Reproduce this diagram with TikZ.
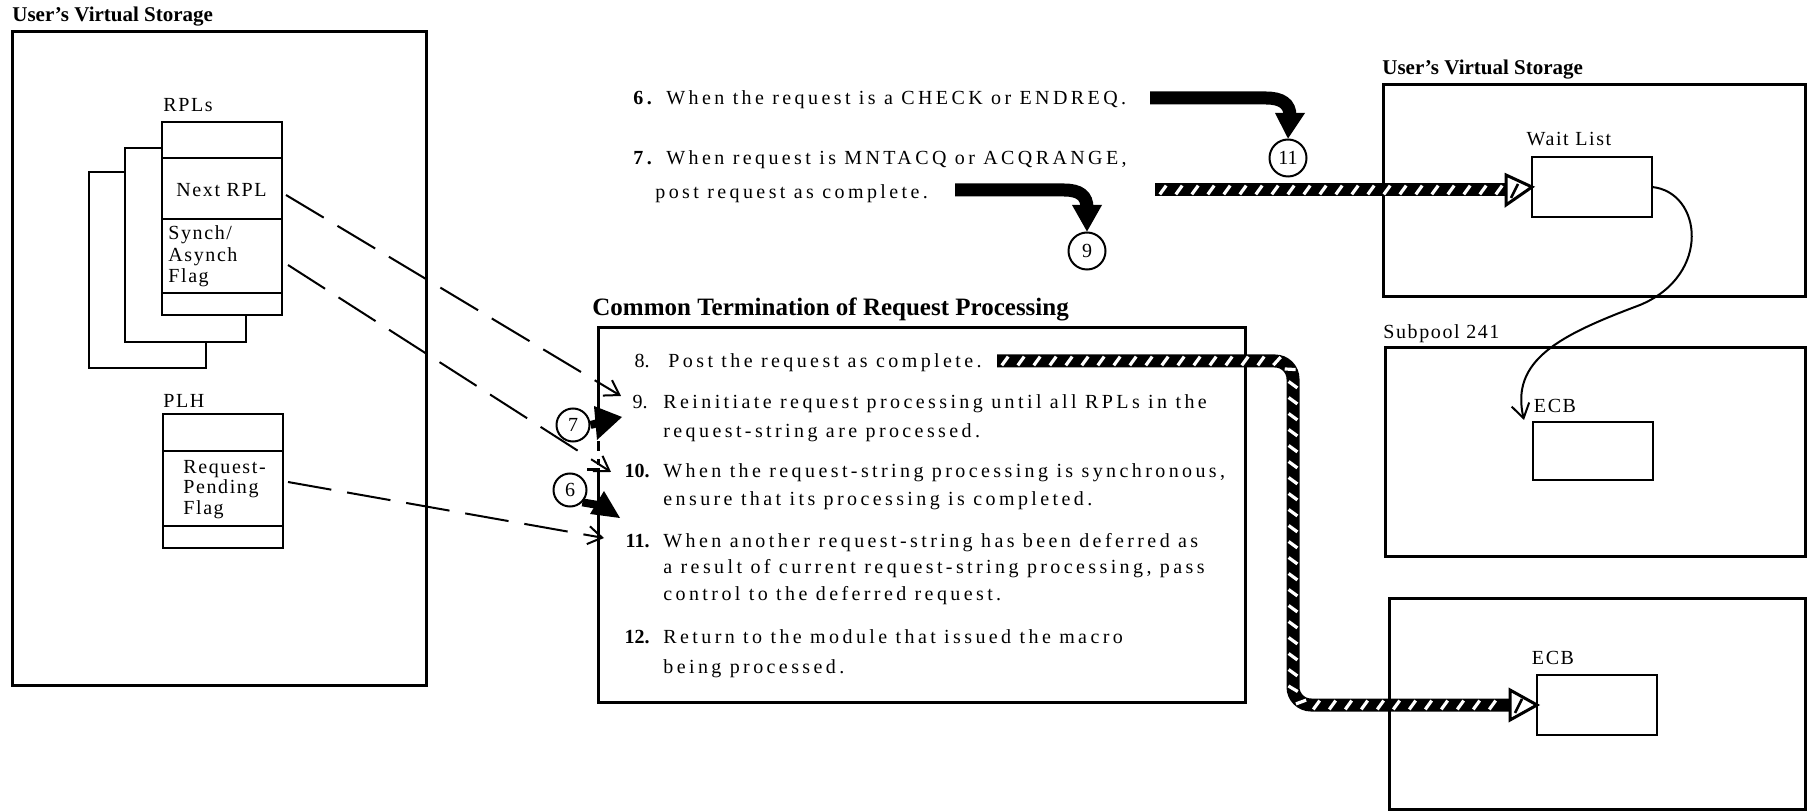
\documentclass[tikz,border=0pt]{standalone}
\usepackage{fontspec}
\setmainfont{Liberation Serif}
\newfontfamily\bodyfont[LetterSpace=17]{Liberation Serif}
\newfontfamily\labfont[LetterSpace=8]{Liberation Serif}
\usetikzlibrary{arrows.meta,decorations.markings}
\begin{document}
\begin{tikzpicture}[x=0.5pt,y=-0.5pt,
  bigbox/.style={draw, line width=1.5pt, anchor=north west, inner sep=0pt, outer sep=0pt},
  smallbox/.style={draw, line width=1pt, anchor=north west, inner sep=0pt, outer sep=0pt, fill=white},
  txt/.style={anchor=base west, inner sep=0pt, font=\bodyfont\fontsize{10}{12}\selectfont},
  num/.style={anchor=base east, inner sep=0pt, font=\fontsize{10}{12}\selectfont},
  lab/.style={anchor=base west, inner sep=0pt, font=\labfont\fontsize{10}{12}\selectfont},
  ttl/.style={anchor=base west, inner sep=0pt, font=\bfseries\fontsize{10.5}{12}\selectfont},
  circ/.style={draw, circle, line width=1pt, minimum size=16.5pt, inner sep=0pt, font=\fontsize{10}{12}\selectfont},
  dasharrow/.style={line width=1pt, dash pattern=on 22pt off 8pt, -{Straight Barb[length=7pt,width=9pt]}},
  hatch/.style={line width=6.5pt, postaction={decorate, decoration={markings,
     mark=between positions 4pt and -3pt step 8pt with {\draw[white, line width=1.6pt] (-1.6pt,-2.2pt) -- (1.6pt,2.2pt);}}}},
  hhead/.style={fill=white, draw=black, line width=1.5pt, line join=miter},
  blackband/.style={line width=6.5pt},
  thin/.style={line width=1pt}
]
\useasboundingbox (0,0) rectangle (1811,812);

% ---------------- left: user's virtual storage ----------------
\node[ttl] (lttl) at (12,22) {User's Virtual Storage};
\node[bigbox, minimum width=207pt, minimum height=326.5pt] (lvs) at (12,32) {};

\node[lab] (rplsl) at (163,112) {RPLs};
\node[smallbox, minimum width=58.5pt, minimum height=98pt] (rplc) at (89,172) {};
\node[smallbox, minimum width=60.5pt, minimum height=97pt] (rplb) at (125,148) {};
\node[smallbox, minimum width=60pt, minimum height=96.5pt] (rpla) at (162,122) {};
\draw[thin] (rpla.north west) ++(0,36) -- ++(120,0);
\draw[thin] (rpla.north west) ++(0,97) -- ++(120,0);
\draw[thin] (rpla.north west) ++(0,171) -- ++(120,0);
\node[lab] (nextrpl) at (176,197) {Next RPL};
\node[lab] (syn1) at (168,240) {Synch/};
\node[lab] (syn2) at (168,262) {Asynch};
\node[lab] (syn3) at (168,283) {Flag};

\node[lab] (plhl) at (163,408) {PLH};
\node[smallbox, minimum width=60pt, minimum height=67pt] (plh) at (163,414) {};
\draw[thin] (plh.north west) ++(0,37) -- ++(120,0);
\draw[thin] (plh.north west) ++(0,112) -- ++(120,0);
\node[lab] (rp1) at (183,474) {Request-};
\node[lab] (rp2) at (183,494) {Pending};
\node[lab] (rp3) at (183,515) {Flag};

\coordinate (sA) at (286,195);
\coordinate (sB) at (288,265);
\coordinate (sC) at (288,482);

% ---------------- top texts ----------------
\node[txt] (t6) at (633,105) {\textbf{6.} When the request is a CHECK or ENDREQ.};
\node[txt] (t7) at (633,165) {\textbf{7.} When request is MNTACQ or ACQRANGE,};
\node[txt] (t7b) at (655,199) {post request as complete.};

\node[circ, minimum size=18.5pt] (c11) at (1288,158) {11};
\node[circ, minimum size=18.5pt] (c9) at (1087,251) {9};

\coordinate (b1s) at (1150,98);
\draw[blackband] (b1s) -- (1266,98) .. controls (1282,98) and (1290,104) .. (1290,116);
\fill (1275,113) -- (1305,113) -- (c11.north) -- cycle;
\coordinate (b2s) at (955,190);
\draw[blackband] (b2s) -- (1064,190) .. controls (1080,190) and (1087,196) .. (1087,208);
\fill (1072,205) -- (1102,205) -- (c9.north) -- cycle;

% ---------------- central box ----------------
\node[ttl, font=\bfseries\fontsize{12.5}{14}\selectfont] (cttl) at (592,316) {Common Termination of Request Processing};
\node[anchor=north west, inner sep=0pt, outer sep=0pt, minimum width=323.5pt, minimum height=187pt] (ct) at (598,328) {};
\draw[line width=1.5pt] (598,405) -- (ct.north west) -- (ct.north east) -- (ct.south east) -- (ct.south west) -- (598,470);
\draw[line width=1.5pt, dash pattern=on 5pt off 4pt] (598,405) -- (598,465);
\draw[line width=1.5pt] (587,470) -- (600,470);

\node[num] (n8) at (650,368) {8.};
\node[txt] (l8) at (668,368) {Post the request as complete.};
\node[num] (n9) at (648,409) {9.};
\node[txt] (l9) at (663,409) {Reinitiate request processing until all RPLs in the};
\node[txt] (l9b) at (663,438) {request-string are processed.};
\node[num] (n10) at (650,478) {\textbf{10.}};
\node[txt] (l10) at (663,478) {When the request-string processing is synchronous,};
\node[txt] (l10b) at (663,506) {ensure that its processing is completed.};
\node[num] (n11) at (650,548) {\textbf{11.}};
\node[txt] (l11) at (663,548) {When another request-string has been deferred as};
\node[txt] (l11b) at (663,574) {a result of current request-string processing, pass};
\node[txt] (l11c) at (663,601) {control to the deferred request.};
\node[num] (n12) at (650,644) {\textbf{12.}};
\node[txt] (l12) at (663,644) {Return to the module that issued the macro};
\node[txt] (l12b) at (663,673) {being processed.};

% dashed connectors
\coordinate (eA) at (621,396);
\coordinate (eB) at (611,472);
\coordinate (eC) at (604,538);
\draw[dasharrow] (sA) -- (eA);
\draw[dasharrow] (sB) -- (eB);
\draw[dasharrow] (sC) -- (eC);

% circles 7 and 6 with black arrows
\node[circ, fill=white] (c7) at (573,425) {7};
\node[circ, fill=white] (c6) at (570,490) {6};
\coordinate (a7t) at (622,417);
\draw[line width=4pt] (c7.east) -- (598,423);
\fill (594,406) -- (a7t) -- (597,440) -- cycle;
\coordinate (a6t) at (620,518);
\draw[line width=4pt] (c6.south east) -- (598,505);
\fill (604,491) -- (a6t) -- (590,514) -- cycle;

% ---------------- right boxes ----------------
\node[ttl] (rttl) at (1382,75) {User's Virtual Storage};
\node[bigbox, minimum width=211pt, minimum height=106pt] (rvs) at (1383,85) {};
\node[lab, anchor=base] (wll) at (1569,146) {Wait List};
\node[smallbox, minimum width=60pt, minimum height=30pt] (wl) at (1532,157) {};

\node[lab] (spl) at (1383,339) {Subpool 241};
\node[bigbox, minimum width=210pt, minimum height=104.5pt] (sp) at (1385,348) {};
\node[lab, anchor=base] (ecb1l) at (1555,413) {ECB};
\node[smallbox, minimum width=60pt, minimum height=29pt] (ecb1) at (1533,422) {};

\node[bigbox, minimum width=208pt, minimum height=105pt] (bb) at (1389,599) {};
\node[lab, anchor=base] (ecb2l) at (1553,664) {ECB};
\node[smallbox, minimum width=60pt, minimum height=30pt] (ecb2) at (1537,675) {};

\coordinate (ecbin) at (1524,420);
\draw[thin, -{Straight Barb[length=7pt,width=9pt]}] (wl.east) .. controls (1702,192) and (1712,275) .. (1640,305)
   .. controls (1560,335) and (1510,360) .. (ecbin);

% ---------------- hatched arrows ----------------
\coordinate (h1s) at (1155,190);
\draw[hatch] (h1s) -- (1508,190);
\filldraw[hhead] (1506,175) -- (wl.west) -- (1506,205) -- cycle;
\draw[line width=1.3pt] (1511,198) -- (1518,184);

\coordinate (h2s) at (997,361);
\draw[hatch, rounded corners=9pt] (h2s) -- (1293,361) -- (1293,705) -- (1512,705);
\filldraw[hhead] (1510,690) -- (ecb2.west) -- (1510,720) -- cycle;
\draw[line width=1.3pt] (1515,713) -- (1522,699);
\end{tikzpicture}
\end{document}
